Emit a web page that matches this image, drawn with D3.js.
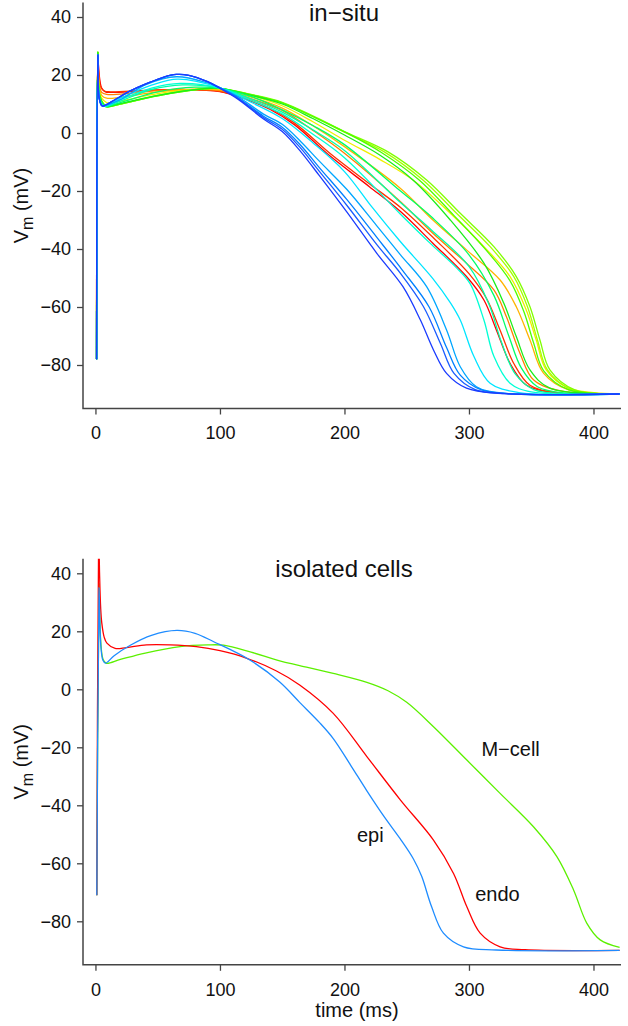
<!DOCTYPE html>
<html>
<head>
<meta charset="utf-8">
<script src="https://cdn.jsdelivr.net/npm/d3@7"></script>
<style>
body { margin: 0; background: #fff; }
text { font-family: "Liberation Sans", Arial, Helvetica, sans-serif; fill: #111; }
</style>
</head>
<body>
<div id="chart"></div>
<script>
// ---- data (time in ms, membrane potential in mV) ----
var xTicks = [0, 100, 200, 300, 400];
var yTicks = [-80, -60, -40, -20, 0, 20, 40];

// in-situ traces, drawn in this order (red first, blue last)
var insituColors = ["#FF0000", "#FF3300", "#FF8000", "#FFB300", "#EEEE00", "#A6FF00",
    "#7FFF00", "#4DFF00", "#1AEE1A", "#00FF66", "#00FFA6", "#00FFD5", "#00E5FF",
    "#00A6FF", "#0080FF", "#1A5CFF", "#1A3CFF"];

var insituRed = [[0.9,-78],[1.9,27],[2.6,22],[3.3,19],[5,15.5],[8,14.2],[12,14],[40,14.6],[70,15],[100,14.3],[120,11.8],[140,8.2],[160,2.8],[188,-7.8],[220,-18.5],[245,-27.1],[271,-38],[298,-49.5],[312,-57.6],[322,-67.9],[333,-79.4],[346,-86.9],[370,-89.6],[421,-90]];
var insituRedOrange = [[0.9,-78],[1.9,27],[2.8,20],[4,16],[7,14.5],[12,14.2],[40,14.7],[70,15],[100,14.4],[120,12],[140,8.6],[160,3.4],[190,-7.6],[220,-17.5],[246,-26],[273,-36.8],[300,-48.5],[314,-57],[325,-68],[336,-79.5],[349,-87],[372,-89.6],[421,-90]];
var insituOrange = [[0.9,-78],[1.9,27],[3,17],[5,14],[9,13.3],[20,13.4],[50,14.6],[80,15],[100,14.6],[125,11.8],[150,7.8],[175,0.8],[200,-7],[245,-23.7],[271,-34.6],[298,-44.9],[320,-54.1],[330,-63.3],[341,-76],[352,-85.2],[375,-89],[421,-90]];
var insituGold = [[0.9,-78],[1.9,27],[3,16],[5,13],[9,12],[20,12.3],[50,14.2],[85,15.1],[100,14.9],[125,12.4],[150,8.6],[175,2.4],[200,-4.7],[245,-19.1],[271,-30],[298,-40.3],[325,-50.7],[338,-59.9],[349,-71.4],[360,-82.9],[380,-88.6],[421,-90]];
var insituYellow = [[0.9,-78],[1.9,28],[3,15],[5,12],[9,10.5],[20,11],[50,13.6],[85,15.2],[100,15.2],[125,12.9],[150,9.4],[175,3.8],[200,-2.5],[228,-9],[255,-16.2],[285,-27.7],[312,-39.2],[333,-49.5],[346,-61],[354,-71.4],[362,-81.7],[380,-88],[421,-90]];
var insituChartreuse = [[0.9,-78],[1.9,28],[3,14],[5,11],[9,9.2],[20,10],[50,13],[85,15.2],[100,15.3],[125,13.2],[150,10.3],[175,5.6],[200,0.3],[232,-6.5],[263,-16.2],[290,-27.7],[317,-39.2],[336,-49.5],[347,-59.9],[355,-71.4],[363,-81.7],[383,-88.6],[421,-90]];
var insituLime = [[0.9,-78],[1.9,28],[3,14],[5,11],[9,9.1],[20,10],[50,12.8],[85,15.1],[100,15.4],[125,13.3],[150,10.6],[175,5.8],[200,0.5],[235,-6.5],[266,-16.2],[293,-27.7],[320,-39.2],[338,-49.5],[349,-59.9],[357,-71.4],[365,-81.7],[385,-88.6],[421,-90]];
var insituGreen1 = [[0.9,-78],[1.9,28],[3,14],[5,11],[9,9.1],[20,10],[50,12.8],[85,15.1],[100,15.4],[125,13.2],[150,10.4],[175,5.6],[200,0.4],[230,-6.8],[260,-16.2],[288,-28.5],[314,-40.5],[333,-51],[344,-61.5],[352,-72.5],[360,-82],[380,-88.5],[421,-90]];
var insituGreen2 = [[0.9,-78],[1.9,28],[3,13.5],[5,10.8],[8,9.1],[20,10.2],[50,13],[85,15.2],[100,15.4],[125,13],[150,10],[175,4.9],[200,-0.7],[228,-7.5],[255,-16.2],[285,-30],[312,-44.9],[328,-58.7],[338,-70.2],[349,-81.7],[365,-88],[421,-90]];
var insituSpring = [[0.9,-78],[1.9,27],[3,13],[5,10.5],[8,9.2],[20,10.5],[50,14.2],[80,15.8],[100,15.4],[125,12.6],[150,8],[175,2.5],[200,-4],[245,-20],[270,-29],[300,-42],[320,-56],[332,-70],[342,-81],[355,-87.5],[380,-89.8],[421,-90]];
var insituAqua = [[0.9,-78],[1.9,27],[3,12.5],[5,10],[8,9.2],[20,11],[45,15],[70,16.6],[100,15.5],[125,11.8],[150,7.2],[175,1],[200,-6],[245,-24],[270,-33.5],[300,-46],[316,-59],[326,-72],[337,-83],[352,-88.5],[380,-89.9],[421,-90]];
var insituTurquoise = [[0.9,-78],[1.9,27],[3,12],[5,9.8],[8,9.3],[20,11.5],[45,15.5],[68,17.1],[100,15.5],[125,11.2],[150,6.6],[175,-0.5],[200,-8.5],[245,-28],[270,-38.5],[290,-46.5],[301,-52],[312,-64.5],[320,-77],[333,-86.3],[350,-89.3],[421,-90]];
var insituCyan = [[0.9,-78],[1.9,27],[3,12],[5,9.6],[8,9.4],[20,12],[45,16.5],[66,18.6],[100,15.6],[125,10.6],[150,5],[175,-3.5],[200,-13.3],[222,-25.5],[245,-37.5],[271,-50.2],[285,-58.5],[293,-64.5],[304,-77.1],[317,-86.3],[340,-89.5],[421,-90]];
var insituAzure = [[0.9,-78],[1.9,27],[3,12],[5,9.4],[8,9.5],[20,11.5],[41,16.8],[65,19.4],[90,17.3],[100,15.7],[115,12.4],[135,6.5],[150,3],[165,-3],[180,-9.8],[202,-19.5],[226,-32],[245,-42],[266,-53],[282,-67.9],[293,-80.6],[306,-87.5],[330,-89.8],[421,-90]];
var insituBlue3 = [[0.9,-78],[1.9,27],[3,12],[5.5,9.3],[8,9.6],[15,11.3],[28,14.5],[41,17],[55,19.3],[65,20.2],[75,19.9],[90,17.7],[100,15.6],[115,12],[135,5.8],[150,2],[165,-4.3],[180,-12],[202,-23],[226,-36],[246,-47],[268,-60],[282,-74],[293,-83.5],[310,-88.6],[340,-90],[421,-90]];
var insituBlue2 = [[0.9,-78],[1.9,27],[3,12],[5.5,9.3],[8,9.6],[15,11.3],[28,14.5],[41,17],[55,19.3],[65,20.2],[75,19.9],[90,17.7],[100,15.5],[115,11.8],[135,5.3],[150,1.3],[165,-5.3],[180,-13.3],[202,-25],[226,-38.5],[245,-48.4],[263.5,-59.9],[277,-72.5],[288,-82.9],[305,-88.5],[330,-89.9],[421,-90]];
var insituDarkBlue = [[0.9,-78],[1.9,27],[3,12],[5.5,9.3],[8,9.6],[15,11.3],[28,14.5],[41,17],[55,19.3],[65,20.2],[75,19.9],[90,17.7],[100,15.4],[115,11.5],[135,4.8],[150,0.5],[165,-6.5],[180,-14.8],[202,-27.3],[226,-41.5],[247,-53],[261,-64.5],[271.5,-74.8],[282,-82.9],[298,-88],[325,-89.8],[421,-90]];

var insituCurves = [insituRed, insituRedOrange, insituOrange, insituGold, insituYellow,
    insituChartreuse, insituLime, insituGreen1, insituGreen2, insituSpring, insituAqua,
    insituTurquoise, insituCyan, insituAzure, insituBlue3, insituBlue2, insituDarkBlue];

// isolated cells
var mcell = [[1.1,-71],[2.9,36.5],[3.5,25],[4.5,15],[6,10.5],[8.5,9],[20,10.3],[40,12.5],[68,14.7],[90,15.3],[103,15.2],[125,12.8],[148,9.8],[164,8.2],[191,5.5],[218,2.4],[235,-0.5],[250,-4.5],[271.5,-12.9],[298.3,-24.4],[325,-35.9],[351.8,-47.4],[370.6,-57.7],[384,-69.2],[394.7,-80.7],[405.4,-86.4],[421,-89]];
var endo = [[1.1,-71],[2.6,55],[3.3,40],[4.2,28],[5.1,22.8],[7,18],[9.2,15.9],[15.8,14.1],[25,14.4],[41,15.3],[60,15.3],[81,14.7],[100,13.3],[121.6,10.7],[145,6.4],[164,1.5],[191,-8.3],[218,-23.2],[245,-38.2],[271.5,-52],[287.6,-63.5],[298.3,-75],[309,-84.1],[325,-88.8],[345,-89.8],[421,-90]];
var epi = [[1.1,-71],[2.9,35],[3.5,24],[4.5,14],[6,10],[8,9],[15,11.6],[28,15.2],[45,18.6],[65.4,20.3],[80,19.3],[95,16.4],[124,10.1],[148,2.5],[164,-4.5],[180,-11.5],[191,-17],[205,-26.2],[218,-35],[232,-44],[244.7,-51.5],[255.4,-58.5],[262,-64.5],[270,-75],[279.5,-84.1],[295.6,-88.8],[322,-89.9],[421,-90]];
var isolatedCurves = [mcell, endo, epi];
var isolatedColors = ["#5CF000", "#FF0000", "#1E8CFF"];
var isolatedLabels = ["M\u2212cell", "endo", "epi"];
var isolatedLabelPos = [[310, -23], [305, -73], [210, -52.5]];

// ---- drawing ----
var width = 628, height = 1026;
var svg = d3.select("#chart").append("svg")
    .attr("width", width)
    .attr("height", height);

var x = d3.scaleLinear().domain([-10, 421.3]).range([83, 620]);

function drawPanel(top, bottom, curves, colors, title, titleY, id)
{
    var y = d3.scaleLinear().domain([-95, 45]).range([bottom, top]);

    svg.append("clipPath").attr("id", id)
        .append("rect")
        .attr("x", 83).attr("y", top)
        .attr("width", 540).attr("height", bottom - top);

    var line = d3.line()
        .x(function(d) { return x(d[0]); })
        .y(function(d) { return y(d[1]); })
        .curve(d3.curveCatmullRom.alpha(0.5));

    svg.append("g")
        .attr("clip-path", "url(#" + id + ")")
        .selectAll("path")
        .data(curves)
        .enter().append("path")
        .attr("fill", "none")
        .attr("stroke", function(d, i) { return colors[i]; })
        .attr("stroke-width", 1.3)
        .attr("d", line);

    var yAxis = svg.append("g")
        .attr("transform", "translate(83,0)")
        .call(d3.axisLeft(y).tickValues(yTicks).tickSize(6).tickPadding(6));
    var xAxis = svg.append("g")
        .attr("transform", "translate(0," + bottom + ")")
        .call(d3.axisBottom(x).tickValues(xTicks).tickSize(6).tickPadding(12));

    [yAxis, xAxis].forEach(function(a) {
        a.select(".domain").remove();
        a.selectAll("line").attr("stroke", "#444").attr("stroke-width", 1.3);
        a.selectAll("text")
            .attr("font-size", "18px")
            .attr("font-family", "Liberation Sans, Arial, sans-serif")
            .attr("fill", "#111");
    });

    // L-shaped frame
    svg.append("path")
        .attr("fill", "none")
        .attr("stroke", "#444")
        .attr("stroke-width", 1.5)
        .attr("d", "M83," + top + "V" + bottom + "H621");

    svg.append("text")
        .attr("x", 344).attr("y", titleY)
        .attr("text-anchor", "middle")
        .attr("font-size", "24px")
        .text(title);

    var lab = svg.append("text")
        .attr("transform", "translate(28," + ((top + bottom) / 2) + ") rotate(-90)")
        .attr("text-anchor", "middle")
        .attr("font-size", "20px");
    lab.append("tspan").text("V");
    lab.append("tspan").attr("dy", 5).attr("font-size", "16px").text("m");
    lab.append("tspan").attr("dy", -5).text(" (mV)");

    return y;
}

drawPanel(2.5, 408.5, insituCurves, insituColors, "in\u2212situ", 21, "clipTop");
var yb = drawPanel(558.8, 964.8, isolatedCurves, isolatedColors, "isolated cells", 577, "clipBottom");

svg.selectAll(".celllabel")
    .data(isolatedLabels)
    .enter().append("text")
    .attr("class", "celllabel")
    .attr("x", function(d, i) { return x(isolatedLabelPos[i][0]); })
    .attr("y", function(d, i) { return yb(isolatedLabelPos[i][1]); })
    .attr("font-size", "20px")
    .text(function(d) { return d; });

svg.append("text")
    .attr("x", 357).attr("y", 1017)
    .attr("text-anchor", "middle")
    .attr("font-size", "20px")
    .text("time (ms)");
</script>
</body>
</html>
